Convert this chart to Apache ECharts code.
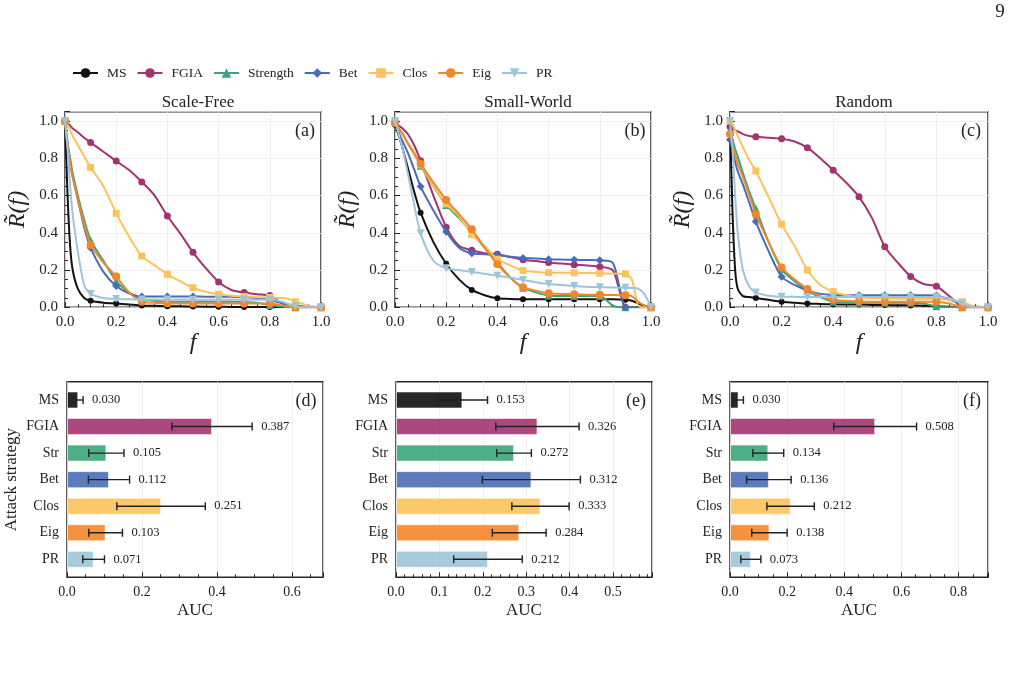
<!DOCTYPE html>
<html>
<head>
<meta charset="utf-8">
<script src="https://cdn.jsdelivr.net/npm/echarts@6/dist/echarts.min.js"></script>
<style>
  html, body { margin: 0; padding: 0; background: #fff; }
  #chart { width: 1015px; height: 674px; }
</style>
</head>
<body>
<div id="chart"></div>
<script>
// fraction of removed nodes (shared x grid for the robustness curves)
const fx = [0, 0.01, 0.02, 0.03, 0.05, 0.075, 0.1, 0.15, 0.2, 0.25, 0.3, 0.35, 0.4, 0.45, 0.5,
            0.55, 0.6, 0.65, 0.7, 0.75, 0.8, 0.85, 0.875, 0.9, 0.925, 0.95, 0.975, 1.0]

const names = ['MS', 'FGIA', 'Strength', 'Bet', 'Clos', 'Eig', 'PR']
const shortNames = ['MS', 'FGIA', 'Str', 'Bet', 'Clos', 'Eig', 'PR']

// (a) Scale-Free
const sfMS   = [1.0, 0.6, 0.33, 0.2, 0.1, 0.05, 0.035, 0.025, 0.02, 0.015, 0.01, 0.008, 0.006, 0.005, 0.004, 0.003, 0.003, 0.002, 0.002, 0.001, 0.001, 0, 0, 0, 0, 0, 0, 0]
const sfFGIA = [1.0, 0.99, 0.975, 0.96, 0.94, 0.91, 0.885, 0.835, 0.785, 0.737, 0.673, 0.6, 0.49, 0.397, 0.295, 0.21, 0.136, 0.093, 0.079, 0.07, 0.063, 0.02, 0.005, 0, 0, 0, 0, 0]
const sfStr  = [1.0, 0.88, 0.8, 0.72, 0.6, 0.47, 0.36, 0.25, 0.14, 0.08, 0.045, 0.035, 0.03, 0.03, 0.03, 0.03, 0.03, 0.03, 0.028, 0.025, 0.012, 0.004, 0, 0, 0, 0, 0, 0]
const sfBet  = [1.0, 0.88, 0.78, 0.7, 0.58, 0.43, 0.32, 0.19, 0.114, 0.075, 0.058, 0.058, 0.058, 0.058, 0.058, 0.057, 0.057, 0.056, 0.055, 0.05, 0.04, 0.02, 0.015, 0.01, 0.006, 0.004, 0.002, 0]
const sfClos = [1.0, 0.97, 0.95, 0.92, 0.87, 0.81, 0.751, 0.65, 0.504, 0.38, 0.275, 0.225, 0.177, 0.14, 0.105, 0.083, 0.07, 0.062, 0.058, 0.055, 0.053, 0.05, 0.045, 0.03, 0.02, 0.008, 0.002, 0]
const sfEig  = [1.0, 0.87, 0.78, 0.7, 0.58, 0.45, 0.335, 0.24, 0.165, 0.08, 0.03, 0.025, 0.022, 0.02, 0.02, 0.02, 0.02, 0.02, 0.02, 0.02, 0.02, 0.01, 0.004, 0, 0, 0, 0, 0]
const sfPR   = [1.0, 0.85, 0.65, 0.5, 0.3, 0.12, 0.072, 0.05, 0.045, 0.043, 0.042, 0.042, 0.042, 0.042, 0.041, 0.041, 0.041, 0.04, 0.04, 0.04, 0.04, 0.03, 0.015, 0.005, 0, 0, 0, 0]

// (b) Small-World
const swMS   = [0.98, 0.94, 0.9, 0.85, 0.75, 0.62, 0.508, 0.35, 0.234, 0.15, 0.093, 0.065, 0.048, 0.045, 0.043, 0.043, 0.043, 0.043, 0.043, 0.043, 0.043, 0.043, 0.042, 0.04, 0.035, 0.02, 0.008, 0]
const swFGIA = [1.0, 0.98, 0.97, 0.96, 0.93, 0.87, 0.787, 0.6, 0.43, 0.33, 0.306, 0.29, 0.285, 0.27, 0.255, 0.248, 0.24, 0.235, 0.229, 0.224, 0.218, 0.2, 0.1, 0, 0, 0, 0, 0]
const swStr  = [1.0, 0.97, 0.95, 0.93, 0.88, 0.82, 0.76, 0.65, 0.549, 0.48, 0.4, 0.32, 0.24, 0.16, 0.105, 0.08, 0.063, 0.06, 0.06, 0.06, 0.06, 0.01, 0, 0, 0, 0, 0, 0]
const swBet  = [1.0, 0.96, 0.92, 0.89, 0.83, 0.74, 0.648, 0.52, 0.406, 0.32, 0.29, 0.285, 0.28, 0.272, 0.265, 0.262, 0.258, 0.256, 0.255, 0.254, 0.252, 0.24, 0.12, 0, 0, 0, 0, 0]
const swClos = [1.0, 0.97, 0.95, 0.93, 0.88, 0.82, 0.765, 0.65, 0.555, 0.49, 0.39, 0.33, 0.258, 0.225, 0.197, 0.19, 0.186, 0.185, 0.185, 0.184, 0.183, 0.181, 0.18, 0.179, 0.15, 0.01, 0, 0]
const swEig  = [0.99, 0.97, 0.95, 0.93, 0.88, 0.83, 0.77, 0.67, 0.576, 0.5, 0.419, 0.32, 0.231, 0.16, 0.107, 0.09, 0.075, 0.072, 0.07, 0.068, 0.067, 0.066, 0.065, 0.065, 0.06, 0.03, 0.01, 0]
const swPR   = [1.0, 0.95, 0.9, 0.85, 0.72, 0.55, 0.397, 0.25, 0.209, 0.2, 0.19, 0.18, 0.17, 0.16, 0.147, 0.135, 0.125, 0.12, 0.115, 0.11, 0.108, 0.106, 0.105, 0.105, 0.104, 0.1, 0.07, 0]

// (c) Random
const rdMS   = [1.0, 0.5, 0.2, 0.1, 0.06, 0.055, 0.05, 0.04, 0.03, 0.025, 0.02, 0.018, 0.016, 0.015, 0.015, 0.013, 0.012, 0.011, 0.01, 0.008, 0.005, 0.003, 0.001, 0, 0, 0, 0, 0]
const rdFGIA = [0.97, 0.96, 0.95, 0.945, 0.93, 0.92, 0.915, 0.91, 0.905, 0.89, 0.857, 0.8, 0.736, 0.67, 0.593, 0.48, 0.325, 0.24, 0.166, 0.125, 0.113, 0.06, 0.03, 0, 0, 0, 0, 0]
const rdStr  = [0.95, 0.9, 0.85, 0.81, 0.72, 0.62, 0.53, 0.35, 0.205, 0.14, 0.09, 0.055, 0.03, 0.027, 0.025, 0.025, 0.025, 0.025, 0.024, 0.02, 0.005, 0, 0, 0, 0, 0, 0, 0]
const rdBet  = [0.9, 0.84, 0.78, 0.73, 0.66, 0.56, 0.46, 0.3, 0.164, 0.12, 0.09, 0.072, 0.066, 0.065, 0.065, 0.065, 0.065, 0.065, 0.065, 0.065, 0.064, 0.04, 0.03, 0.02, 0.01, 0.005, 0.002, 0]
const rdClos = [1.0, 0.98, 0.95, 0.92, 0.86, 0.79, 0.732, 0.59, 0.446, 0.33, 0.2, 0.12, 0.084, 0.065, 0.055, 0.05, 0.047, 0.046, 0.045, 0.045, 0.045, 0.04, 0.035, 0.03, 0.015, 0.002, 0, 0]
const rdEig  = [0.93, 0.87, 0.82, 0.77, 0.7, 0.6, 0.5, 0.35, 0.214, 0.15, 0.098, 0.06, 0.04, 0.035, 0.032, 0.03, 0.03, 0.03, 0.03, 0.03, 0.03, 0.02, 0.01, 0, 0, 0, 0, 0]
const rdPR   = [1.0, 0.85, 0.6, 0.4, 0.2, 0.11, 0.08, 0.062, 0.057, 0.056, 0.055, 0.055, 0.055, 0.055, 0.055, 0.055, 0.055, 0.055, 0.055, 0.055, 0.055, 0.05, 0.035, 0.02, 0.005, 0, 0, 0]

// AUC means and std (bars + error bars)
const aucSF = [0.030, 0.387, 0.105, 0.112, 0.251, 0.103, 0.071]
const errSF = [0.013, 0.107, 0.047, 0.055, 0.118, 0.045, 0.029]
const aucSW = [0.153, 0.326, 0.272, 0.312, 0.333, 0.284, 0.212]
const errSW = [0.058, 0.096, 0.040, 0.113, 0.066, 0.062, 0.079]
const aucRD = [0.030, 0.508, 0.134, 0.136, 0.212, 0.138, 0.073]
const errRD = [0.017, 0.145, 0.054, 0.078, 0.083, 0.062, 0.035]

const colors = ['#111111', '#a3346f', '#3aa676', '#4a6bb7', '#fbc35c', '#f4862a', '#9dc5d9']
const symbols = ['circle', 'circle', 'triangle', 'diamond', 'rect', 'circle', 'triangle']
const symSize = [6, 7, 8, 8, 7, 8, 8]
const FONT = 'Liberation Serif'
const INK = '#222'

let mychart = echarts.init(document.getElementById('chart'))

function isMark(x) {
  return Math.abs(x * 10 - Math.round(x * 10)) < 1e-6
}

function lineSeries(g, arrs) {
  return arrs.map((arr, k) => ({
    name: names[k],
    type: 'line',
    xAxisIndex: g, yAxisIndex: g,
    smooth: 0.25,
    color: colors[k],
    symbol: symbols[k],
    symbolSize: symSize[k],
    symbolRotate: k === 6 ? 180 : 0,
    lineStyle: { width: 2 },
    data: fx.map((x, i) => isMark(x) ? [x, arr[i]] : { value: [x, arr[i]], symbol: 'none' }),
    z: 2 + k
  }))
}

function barSeries(g, auc) {
  return {
    type: 'bar',
    xAxisIndex: g, yAxisIndex: g,
    barWidth: 17,
    data: auc.map((v, i) => ({ value: v, itemStyle: { color: colors[i], opacity: 0.9, borderColor: 'rgba(255,255,255,0.6)', borderWidth: 1 } }))
  }
}

function errSeries(g, auc, err) {
  return {
    type: 'custom',
    xAxisIndex: g, yAxisIndex: g,
    encode: { x: [1, 2], y: 0 },
    data: auc.map((v, i) => [i, v - err[i], v + err[i], v]),
    z: 10,
    renderItem: function (params, api) {
      let c = api.value(0)
      let p1 = api.coord([api.value(1), c])
      let p2 = api.coord([api.value(2), c])
      let st = { stroke: INK, lineWidth: 1.4 }
      return {
        type: 'group',
        children: [
          { type: 'line', shape: { x1: p1[0], y1: p1[1], x2: p2[0], y2: p2[1] }, style: st },
          { type: 'line', shape: { x1: p1[0], y1: p1[1] - 4, x2: p1[0], y2: p1[1] + 4 }, style: st },
          { type: 'line', shape: { x1: p2[0], y1: p2[1] - 4, x2: p2[0], y2: p2[1] + 4 }, style: st },
          { type: 'text', x: p2[0] + 9, y: p2[1], style: { text: api.value(3).toFixed(3), fill: INK, fontSize: 12.5, fontFamily: FONT, verticalAlign: 'middle' } }
        ]
      }
    }
  }
}

const tick = { inside: true, length: 5, lineStyle: { color: INK, width: 1 } }
const topLabel = { color: INK, fontSize: 15, fontFamily: FONT }
const botLabel = { color: INK, fontSize: 14, fontFamily: FONT }
const grey = { lineStyle: { color: '#ebebeb', width: 0.8 } }

function topX(g) {
  return {
    gridIndex: g, type: 'value', min: 0, max: 1, interval: 0.2,
    axisLine: { show: false }, axisTick: tick,
    minorTick: { show: true, splitNumber: 4, length: 3, lineStyle: { color: INK } },
    axisLabel: Object.assign({ margin: 7, formatter: v => v.toFixed(1) }, topLabel),
    splitLine: grey,
    name: 'f', nameLocation: 'middle', nameGap: 20,
    nameTextStyle: { fontStyle: 'italic', fontSize: 24, fontFamily: FONT, color: INK }
  }
}
function topY(g) {
  return {
    gridIndex: g, type: 'value', min: 0, max: 1.05, interval: 0.2,
    axisLine: { show: false }, axisTick: tick,
    minorTick: { show: true, splitNumber: 4, length: 3, lineStyle: { color: INK } },
    axisLabel: Object.assign({ margin: 7, formatter: v => Math.abs(v * 5 - Math.round(v * 5)) < 1e-6 ? v.toFixed(1) : '' }, topLabel),
    splitLine: grey,
    name: 'R\u0303(f)', nameLocation: 'middle', nameGap: 35, nameRotate: 90,
    nameTextStyle: { fontStyle: 'italic', fontSize: 24, fontFamily: FONT, color: INK }
  }
}
function botX(g, max, step, minor, show) {
  return {
    gridIndex: g, type: 'value', min: 0, max: max, interval: step, show: show,
    axisLine: { show: false }, axisTick: tick,
    minorTick: { show: true, splitNumber: minor, length: 3, lineStyle: { color: INK } },
    axisLabel: Object.assign({ margin: 8, formatter: v => Math.abs(v / step - Math.round(v / step)) < 1e-6 ? v.toFixed(1) : '' }, botLabel),
    splitLine: grey,
    name: 'AUC', nameLocation: 'middle', nameGap: 25,
    nameTextStyle: { fontSize: 17, fontFamily: FONT, color: INK }
  }
}
function catY(g, withName) {
  return {
    gridIndex: g, type: 'category', inverse: true, data: shortNames,
    axisLine: { show: false },
    axisTick: { inside: true, alignWithLabel: true, length: 5, lineStyle: { color: INK } },
    axisLabel: Object.assign({ margin: 8 }, botLabel),
    splitLine: { show: false },
    name: withName ? 'Attack strategy' : '', nameLocation: 'middle', nameGap: 47, nameRotate: 90,
    nameTextStyle: { fontSize: 17, fontFamily: FONT, color: INK }
  }
}

const frame = { show: true, borderColor: '#2a2a2a', borderWidth: 1.5, backgroundColor: 'transparent' }
const panels = [
  { left: 65, width: 256 }, { left: 395, width: 256 }, { left: 730, width: 258 }
]
const bPanels = [
  { left: 67, width: 256, max: 0.683, step: 0.2, minor: 4 },
  { left: 396, width: 256, max: 0.59, step: 0.1, minor: 5 },
  { left: 730, width: 258, max: 0.903, step: 0.2, minor: 4 }
]

let grids = [], xAxes = [], yAxes = [], series = []
panels.forEach((p, i) => {
  grids.push(Object.assign({ left: p.left, width: p.width, top: 111.7, height: 195.6 }, frame))
  xAxes.push(topX(i)); yAxes.push(topY(i))
})
series = series.concat(lineSeries(0, [sfMS, sfFGIA, sfStr, sfBet, sfClos, sfEig, sfPR]))
series = series.concat(lineSeries(1, [swMS, swFGIA, swStr, swBet, swClos, swEig, swPR]))
series = series.concat(lineSeries(2, [rdMS, rdFGIA, rdStr, rdBet, rdClos, rdEig, rdPR]))

const aucs = [[aucSF, errSF], [aucSW, errSW], [aucRD, errRD]]
bPanels.forEach((p, i) => {
  let gf = grids.length
  grids.push(Object.assign({ left: p.left, width: p.width, top: 381.7, height: 195.6 }, frame))
  xAxes.push(botX(gf, p.max, p.step, p.minor, true))
  yAxes.push({ gridIndex: gf, type: 'value', show: false, min: 0, max: 1 })
  let gb = grids.length
  grids.push({ left: p.left, width: p.width, top: 386.7, height: 185.9 })
  xAxes.push(botX(gb, p.max, p.step, p.minor, false))
  yAxes.push(catY(gb, i === 0))
  series.push(barSeries(gb, aucs[i][0]))
  series.push(errSeries(gb, aucs[i][0], aucs[i][1]))
})

const titles = [
  { text: 'Scale-Free', left: 193, top: 89 }, { text: 'Small-World', left: 523, top: 89 }, { text: 'Random', left: 859, top: 89 }
].map(t => ({ text: t.text, left: t.left, top: t.top, textAlign: 'center',
  textStyle: { fontSize: 17, fontWeight: 'normal', fontFamily: FONT, color: INK } }))

const tags = [['(a)', 305, 131], ['(b)', 635, 131], ['(c)', 971, 131], ['(d)', 306, 401], ['(e)', 636, 401], ['(f)', 972, 401]]

mychart.setOption({
  animation: false,
  title: titles,
  legend: {
    data: names, top: 61, left: 67, itemWidth: 25, itemHeight: 12, itemGap: 10,
    textStyle: { fontSize: 13.5, fontFamily: FONT, color: INK, padding: [0, 0, 0, 4] }
  },
  grid: grids,
  xAxis: xAxes,
  yAxis: yAxes,
  series: series,
  graphic: tags.map(t => ({
    type: 'text', x: t[1], y: t[2],
    style: { text: t[0], fontSize: 18, fontFamily: FONT, fill: INK, align: 'center', verticalAlign: 'middle' }
  })).concat([{
    type: 'text', x: 1000, y: 12,
    style: { text: '9', fontSize: 19, fontFamily: FONT, fill: INK, align: 'center', verticalAlign: 'middle' }
  }])
})
</script>
</body>
</html>
